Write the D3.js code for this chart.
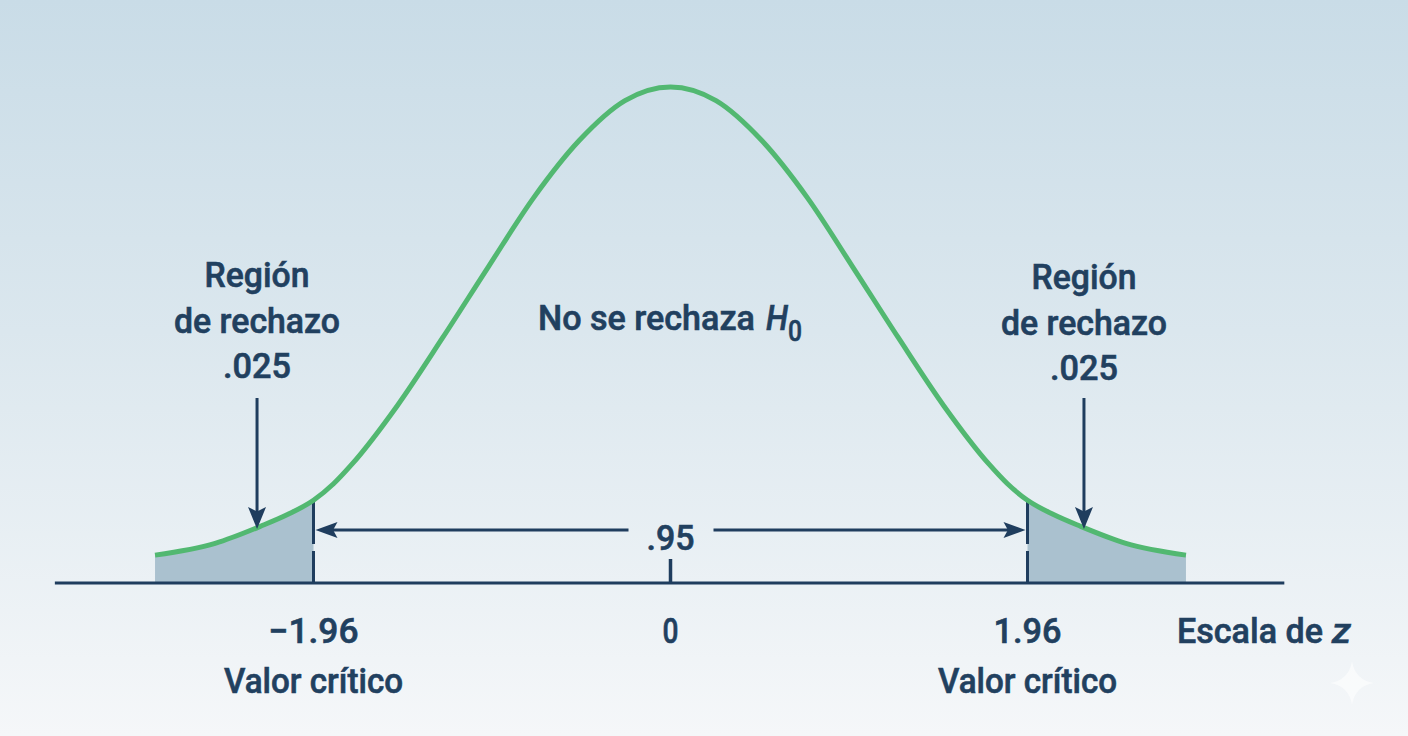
<!DOCTYPE html>
<html>
<head>
<meta charset="utf-8">
<script src="https://cdn.jsdelivr.net/npm/d3@7"></script>
<style>
  html, body { margin: 0; padding: 0; background: #e6eef3; }
  svg { display: block; }
  text { font-family: "Roboto", "Liberation Sans", sans-serif; font-weight: 500; fill: #21405f; stroke: #21405f; stroke-width: 0.6px; }
</style>
</head>
<body>
<svg id="chart" width="1408" height="736"></svg>
<script>
// ---- data ----
const zValues = [-2.83, -2.5, -2.25, -2.1, -1.96, -1.85, -1.75, -1.5, -1.25, -1.0, -0.75, -0.5, -0.25, 0,
                 0.25, 0.5, 0.75, 1.0, 1.25, 1.5, 1.75, 1.85, 1.96, 2.1, 2.25, 2.5, 2.83];
const densityValues = [0.0225, 0.032, 0.0458, 0.0554, 0.0667, 0.080, 0.0956, 0.143, 0.198, 0.255, 0.311, 0.357, 0.389, 0.400,
                       0.389, 0.357, 0.311, 0.255, 0.198, 0.143, 0.0956, 0.080, 0.0667, 0.0554, 0.0458, 0.032, 0.0225];
const criticalValues = [-1.96, 1.96];
const tickValues = [-1.96, 0, 1.96];
const tickLabels = ["\u22121.96", "0", "1.96"];
const tickSubLabels = ["Valor crítico", "", "Valor crítico"];
const regionLines = ["Región", "de rechazo", ".025"];
const acceptLabel = "No se rechaza";
const centralArea = ".95";
const axisTitle = "Escala de";
const axisExtent = [-3.38, 3.37];
const regionZ = [-2.27, 2.27];

const svg = d3.select("#chart");
const W = 1408, H = 736;

// background gradient
const defs = svg.append("defs");
const bg = defs.append("linearGradient").attr("id", "bg").attr("x1", 0).attr("y1", 0).attr("x2", 0).attr("y2", 1);
bg.append("stop").attr("offset", "0%").attr("stop-color", "#c9dce7");
bg.append("stop").attr("offset", "45%").attr("stop-color", "#dbe7ee");
bg.append("stop").attr("offset", "100%").attr("stop-color", "#f5f7f9");
svg.append("rect").attr("width", W).attr("height", H).attr("fill", "url(#bg)");

const x = d3.scaleLinear().domain([-1.96, 1.96]).range([313.5, 1027.5]);
const y = d3.scaleLinear().domain([0, 0.4]).range([583, 87]);
const navy = "#1f3d5e";

const pts = zValues.map((z, i) => ({ z, d: densityValues[i] }));

// shaded tails
const area = d3.area().x(p => x(p.z)).y0(y(0)).y1(p => y(p.d)).curve(d3.curveMonotoneX);
svg.append("path").datum(pts.filter(p => p.z <= -1.96)).attr("d", area).attr("fill", "#aac1cf");
svg.append("path").datum(pts.filter(p => p.z >= 1.96)).attr("d", area).attr("fill", "#aac1cf");

// critical boundary lines
criticalValues.forEach(c => {
  const d = densityValues[zValues.indexOf(c)];
  svg.append("line")
    .attr("x1", x(c)).attr("x2", x(c))
    .attr("y1", y(0)).attr("y2", y(d))
    .attr("stroke", navy).attr("stroke-width", 3)
    .attr("stroke-dasharray", "32 7 300");
});

// axis line
svg.append("line")
  .attr("x1", x(axisExtent[0])).attr("x2", x(axisExtent[1]))
  .attr("y1", y(0)).attr("y2", y(0))
  .attr("stroke", navy).attr("stroke-width", 3);

// tick at 0
svg.append("line")
  .attr("x1", x(0)).attr("x2", x(0))
  .attr("y1", y(0)).attr("y2", y(0) - 24)
  .attr("stroke", navy).attr("stroke-width", 3.5);

// the curve
const line = d3.line().x(p => x(p.z)).y(p => y(p.d)).curve(d3.curveMonotoneX);
svg.append("path").datum(pts).attr("d", line)
  .attr("fill", "none").attr("stroke", "#52b871").attr("stroke-width", 5);

// text helper: condensed look via textLength
function label(parent, tx, ty, s, width, anchor, size) {
  return parent.append("text").attr("x", tx).attr("y", ty)
    .attr("text-anchor", anchor || "middle")
    .attr("font-size", size || 35)
    .attr("textLength", width).attr("lengthAdjust", "spacingAndGlyphs")
    .text(s);
}

// arrowheads helper
function arrowHead(tipX, tipY, dir, len, half) {
  let p;
  if (dir === "left") p = [[tipX, tipY], [tipX + len, tipY - half], [tipX + len * 0.8, tipY], [tipX + len, tipY + half]];
  else if (dir === "right") p = [[tipX, tipY], [tipX - len, tipY - half], [tipX - len * 0.8, tipY], [tipX - len, tipY + half]];
  else p = [[tipX, tipY], [tipX - half, tipY - len], [tipX, tipY - len * 0.8], [tipX + half, tipY - len]];
  svg.append("path").attr("d", "M" + p.map(q => q.join(",")).join("L") + "Z").attr("fill", navy);
}

// .95 span arrow
const spanY = 530;
svg.append("line").attr("x1", x(-1.96) + 10).attr("x2", x(0) - 42).attr("y1", spanY).attr("y2", spanY)
  .attr("stroke", navy).attr("stroke-width", 3);
svg.append("line").attr("x1", x(0) + 43).attr("x2", x(1.96) - 10).attr("y1", spanY).attr("y2", spanY)
  .attr("stroke", navy).attr("stroke-width", 3);
arrowHead(x(-1.96) + 2, spanY, "left", 22, 8);
arrowHead(x(1.96) - 2, spanY, "right", 22, 8);
label(svg, x(0), 550, centralArea, 48);

// rejection-region labels and arrows
const regionWidths = [105, 166, 68];
const regionBase = [287, 289];
regionZ.forEach((z, k) => {
  regionLines.forEach((s, i) => {
    label(svg, x(z), regionBase[k] + i * 45.5, s, regionWidths[i]);
  });
  const ax = x(z);
  svg.append("line").attr("x1", ax).attr("x2", ax).attr("y1", 398).attr("y2", 512)
    .attr("stroke", navy).attr("stroke-width", 3);
  arrowHead(ax, 529, "down", 22, 9);
});

// central label "No se rechaza H0"
label(svg, 538, 330, acceptLabel, 217, "start");
svg.append("text").attr("x", 766).attr("y", 330).attr("font-size", 35).attr("font-style", "italic")
  .attr("textLength", 22).attr("lengthAdjust", "spacingAndGlyphs").text("H");
svg.append("text").attr("x", 788).attr("y", 341).attr("font-size", 30)
  .attr("textLength", 14).attr("lengthAdjust", "spacingAndGlyphs").text("0");

// tick labels
const tickWidths = [90, 16, 68];
tickValues.forEach((v, i) => {
  label(svg, x(v), 643, tickLabels[i], tickWidths[i]);
  if (tickSubLabels[i]) label(svg, x(v), 693, tickSubLabels[i], 179);
});

// axis title
label(svg, 1177, 643, axisTitle, 146, "start");
svg.append("text").attr("x", 1332).attr("y", 643).attr("font-size", 35).attr("font-style", "italic")
  .attr("textLength", 19).attr("lengthAdjust", "spacingAndGlyphs").text("z");

// faint sparkle mark bottom-right
const sx = 1352, sy = 683, r = 22;
svg.append("path")
  .attr("d", `M${sx},${sy - r} Q${sx + 3},${sy - 3} ${sx + r},${sy} Q${sx + 3},${sy + 3} ${sx},${sy + r} Q${sx - 3},${sy + 3} ${sx - r},${sy} Q${sx - 3},${sy - 3} ${sx},${sy - r}Z`)
  .attr("fill", "#ffffff").attr("opacity", 0.55);
</script>
</body>
</html>
